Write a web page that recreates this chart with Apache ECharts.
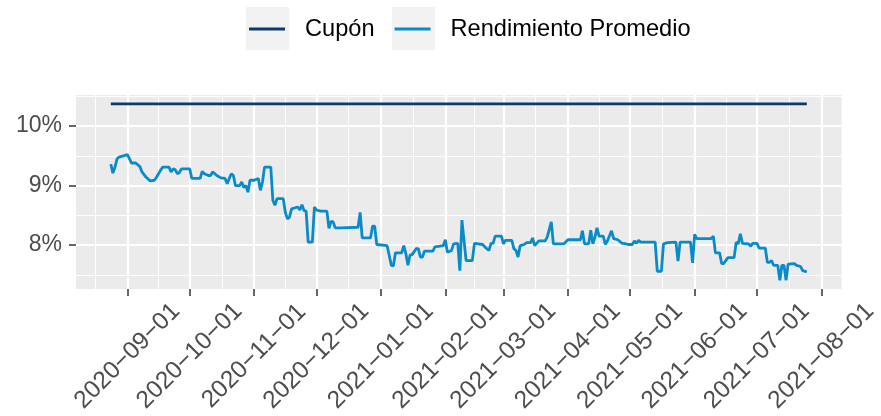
<!DOCTYPE html>
<html>
<head>
<meta charset="utf-8">
<script src="https://cdn.jsdelivr.net/npm/echarts@6/dist/echarts.min.js"></script>
<style>
  html, body { margin: 0; padding: 0; background: #fff; }
  #chart { width: 881px; height: 416px; }
</style>
</head>
<body>
<div id="chart"></div>
<script>
// rendimiento promedio diario
const fechas = [
  '2020-08-24','2020-08-25','2020-08-26','2020-08-27','2020-08-28','2020-08-30','2020-09-01','2020-09-02',
  '2020-09-03','2020-09-05','2020-09-07','2020-09-08','2020-09-10','2020-09-12','2020-09-14','2020-09-15',
  '2020-09-17','2020-09-18','2020-09-21','2020-09-22','2020-09-23','2020-09-24','2020-09-25','2020-09-26',
  '2020-09-27','2020-10-01','2020-10-02','2020-10-06','2020-10-07','2020-10-08','2020-10-10','2020-10-11',
  '2020-10-12','2020-10-14','2020-10-16','2020-10-18','2020-10-19','2020-10-20','2020-10-21','2020-10-22',
  '2020-10-23','2020-10-25','2020-10-26','2020-10-27','2020-10-28','2020-10-29','2020-10-30','2020-11-01',
  '2020-11-03','2020-11-04','2020-11-05','2020-11-06','2020-11-09','2020-11-10','2020-11-11','2020-11-12',
  '2020-11-15','2020-11-16','2020-11-17','2020-11-18','2020-11-19','2020-11-22','2020-11-23','2020-11-24',
  '2020-11-25','2020-11-26','2020-11-27','2020-11-29','2020-11-30','2020-12-01','2020-12-03','2020-12-06',
  '2020-12-07','2020-12-08','2020-12-09','2020-12-10','2020-12-13','2020-12-21','2020-12-22','2020-12-23',
  '2020-12-27','2020-12-28','2020-12-29','2020-12-30','2021-01-04','2021-01-06','2021-01-07','2021-01-08',
  '2021-01-11','2021-01-12','2021-01-13','2021-01-14','2021-01-15','2021-01-16','2021-01-18','2021-01-19',
  '2021-01-20','2021-01-21','2021-01-22','2021-01-26','2021-01-27','2021-01-31','2021-02-01','2021-02-02',
  '2021-02-04','2021-02-05','2021-02-07','2021-02-08','2021-02-09','2021-02-11','2021-02-14','2021-02-15',
  '2021-02-19','2021-02-20','2021-02-22','2021-02-23','2021-02-24','2021-02-25','2021-02-28','2021-03-01',
  '2021-03-02','2021-03-05','2021-03-06','2021-03-07','2021-03-08','2021-03-09','2021-03-11','2021-03-12',
  '2021-03-14','2021-03-15','2021-03-16','2021-03-18','2021-03-21','2021-03-22','2021-03-24','2021-03-25',
  '2021-03-30','2021-04-01','2021-04-07','2021-04-08','2021-04-09','2021-04-11','2021-04-12','2021-04-13',
  '2021-04-14','2021-04-15','2021-04-16','2021-04-18','2021-04-19','2021-04-20','2021-04-22','2021-04-23',
  '2021-04-25','2021-04-27','2021-04-28','2021-04-30','2021-05-02','2021-05-03','2021-05-04','2021-05-05',
  '2021-05-06','2021-05-13','2021-05-14','2021-05-16','2021-05-17','2021-05-19','2021-05-23','2021-05-24',
  '2021-05-25','2021-05-30','2021-05-31','2021-06-01','2021-06-02','2021-06-09','2021-06-10','2021-06-11',
  '2021-06-13','2021-06-14','2021-06-15','2021-06-17','2021-06-20','2021-06-21','2021-06-22','2021-06-23',
  '2021-06-24','2021-06-27','2021-06-28','2021-06-29','2021-07-01','2021-07-02','2021-07-05','2021-07-06',
  '2021-07-07','2021-07-08','2021-07-09','2021-07-11','2021-07-12','2021-07-13','2021-07-14','2021-07-15',
  '2021-07-16','2021-07-19','2021-07-20','2021-07-22','2021-07-23','2021-07-25'
];
const rendimiento = [
  9.36, 9.21, 9.31, 9.45, 9.48, 9.50, 9.52, 9.45,
  9.38, 9.38, 9.32, 9.23, 9.14, 9.08, 9.09, 9.14,
  9.26, 9.31, 9.31, 9.23, 9.28, 9.27, 9.20, 9.22,
  9.28, 9.28, 9.12, 9.12, 9.24, 9.20, 9.17, 9.17,
  9.23, 9.17, 9.13, 9.12, 9.03, 9.12, 9.20, 9.17,
  9.00, 9.00, 9.06, 8.97, 9.00, 8.89, 9.09, 9.09,
  9.12, 8.92, 9.06, 9.31, 9.31, 8.75, 8.67, 8.78,
  8.78, 8.55, 8.44, 8.47, 8.61, 8.64, 8.59, 8.68,
  8.58, 8.57, 8.05, 8.05, 8.64, 8.59, 8.57, 8.57,
  8.28, 8.40, 8.39, 8.29, 8.29, 8.30, 8.55, 8.12,
  8.12, 8.32, 8.32, 8.01, 7.99, 7.66, 7.65, 7.87,
  7.87, 7.99, 7.86, 7.66, 7.83, 7.84, 7.94, 7.94,
  7.80, 7.80, 7.90, 7.90, 7.97, 7.99, 8.09, 7.88,
  7.91, 8.02, 8.03, 7.57, 8.42, 7.74, 7.74, 8.03,
  8.01, 7.97, 7.91, 8.03, 8.03, 8.15, 8.15, 8.02,
  8.08, 8.08, 7.94, 7.91, 7.80, 7.99, 8.01, 8.04,
  8.04, 8.12, 7.99, 8.07, 8.07, 8.13, 8.39, 8.02,
  8.02, 8.09, 8.09, 8.24, 8.02, 8.02, 8.25, 8.02,
  8.13, 8.29, 8.15, 8.15, 8.01, 8.07, 8.24, 8.11,
  8.09, 8.03, 8.03, 8.01, 8.01, 8.07, 8.03, 8.08,
  8.05, 8.05, 7.56, 7.56, 8.02, 8.04, 8.05, 7.73,
  8.05, 8.05, 7.70, 8.18, 8.11, 8.11, 8.15, 7.87,
  7.87, 7.69, 7.69, 7.79, 7.79, 8.05, 8.02, 8.19,
  8.03, 8.02, 7.98, 8.03, 8.03, 7.95, 7.95, 7.71,
  7.71, 7.74, 7.66, 7.66, 7.41, 7.66, 7.66, 7.41,
  7.68, 7.69, 7.66, 7.64, 7.57, 7.55
];
const cuponFechas = ['2020-08-24', '2021-07-25'];
const cuponValores = [10.375, 10.375];

// cortes de los ejes
const cortesMes = [
  '2020-08-01','2020-09-01','2020-10-01','2020-11-01','2020-12-01','2021-01-01','2021-02-01',
  '2021-03-01','2021-04-01','2021-05-01','2021-06-01','2021-07-01','2021-08-01','2021-09-01'
];
const cortesY = [8, 9, 10];
const cortesYMenores = [7.5, 8.5, 9.5, 10.5];

const fuente = "'Liberation Sans', Arial, Helvetica, sans-serif";
const colCupon = '#0c3a6c';
const colRend = '#0a8bc9';

const parse = s => +echarts.time.parse(s);

// rango con expansion del 5% como ggplot
const t0 = parse(fechas[0]);
const t1 = parse(fechas[fechas.length - 1]);
const xMin = t0 - 0.05 * (t1 - t0);
const xMax = t1 + 0.05 * (t1 - t0);
const todosY = rendimiento.concat(cuponValores);
const yLo = Math.min.apply(null, todosY);
const yHi = Math.max.apply(null, todosY);
const yMin = yLo - 0.05 * (yHi - yLo);
const yMax = yHi + 0.05 * (yHi - yLo);

const cortesT = cortesMes.map(parse);
const mayoresX = cortesT.filter(t => t >= xMin && t <= xMax);
const menoresX = [];
for (let i = 0; i < cortesT.length - 1; i++) {
  const m = (cortesT[i] + cortesT[i + 1]) / 2;
  if (m >= xMin && m <= xMax) menoresX.push(m);
}

const lineasGrilla = [].concat(
  menoresX.map(t => ({ xAxis: t, lineStyle: { width: 1.1 } })),
  cortesYMenores.map(v => ({ yAxis: v, lineStyle: { width: 1.1 } })),
  mayoresX.map(t => ({ xAxis: t, lineStyle: { width: 2.2 } })),
  cortesY.map(v => ({ yAxis: v, lineStyle: { width: 2.2 } }))
);

const chart = echarts.init(document.getElementById('chart'));
chart.setOption({
  animation: false,
  backgroundColor: '#fff',
  textStyle: { fontFamily: fuente },
  grid: {
    left: 76, right: 31, top: 95, bottom: 127,
    show: true, backgroundColor: '#ebebeb', borderWidth: 0
  },
  graphic: [
    { type: 'rect', left: 246, top: 7, shape: { width: 43, height: 43 }, style: { fill: '#f2f2f2' }, z: 0 },
    { type: 'rect', left: 392, top: 7, shape: { width: 43, height: 43 }, style: { fill: '#f2f2f2' }, z: 0 }
  ],
  legend: {
    data: ['Cupón', 'Rendimiento Promedio'],
    left: 249,
    top: 17,
    padding: 0,
    icon: 'rect',
    itemWidth: 36,
    itemHeight: 2.8,
    itemGap: 20,
    selectedMode: false,
    textStyle: { fontSize: 23.6, color: '#000', fontFamily: fuente, padding: [0, 0, 0, 15] }
  },
  xAxis: {
    type: 'value',
    min: xMin,
    max: xMax,
    splitLine: { show: false },
    axisLine: { show: false },
    axisTick: { show: true, length: 7, lineStyle: { color: '#333', width: 1.5 }, customValues: mayoresX },
    axisLabel: {
      customValues: mayoresX,
      rotate: 45,
      align: 'center',
      verticalAlign: 'middle',
      margin: 67,
      color: '#4d4d4d',
      fontSize: 24.5,
      fontFamily: fuente,
      formatter: v => echarts.time.format(v, '{yyyy}-{MM}-{dd}', false).replace(/-/g, '\u2212')
    }
  },
  yAxis: {
    type: 'value',
    min: yMin,
    max: yMax,
    splitLine: { show: false },
    axisLine: { show: false },
    axisTick: { show: true, length: 7, lineStyle: { color: '#333', width: 1.5 }, customValues: cortesY },
    axisLabel: {
      customValues: cortesY,
      formatter: v => v + '%',
      color: '#4d4d4d',
      fontSize: 23,
      fontFamily: fuente,
      margin: 14
    }
  },
  series: [
    {
      type: 'line',
      data: [],
      silent: true,
      markLine: {
        silent: true,
        z: 1,
        symbol: ['none', 'none'],
        label: { show: false },
        lineStyle: { color: '#ffffff', type: 'solid' },
        emphasis: { disabled: true },
        data: lineasGrilla
      }
    },
    {
      name: 'Cupón',
      type: 'line',
      z: 3,
      symbol: 'none',
      data: cuponFechas.map((f, i) => [parse(f), cuponValores[i]]),
      lineStyle: { color: colCupon, width: 2.8 },
      itemStyle: { color: colCupon }
    },
    {
      name: 'Rendimiento Promedio',
      type: 'line',
      z: 3,
      symbol: 'none',
      data: fechas.map((f, i) => [parse(f), rendimiento[i]]),
      lineStyle: { color: colRend, width: 2.8 },
      itemStyle: { color: colRend }
    }
  ]
});
</script>
</body>
</html>
